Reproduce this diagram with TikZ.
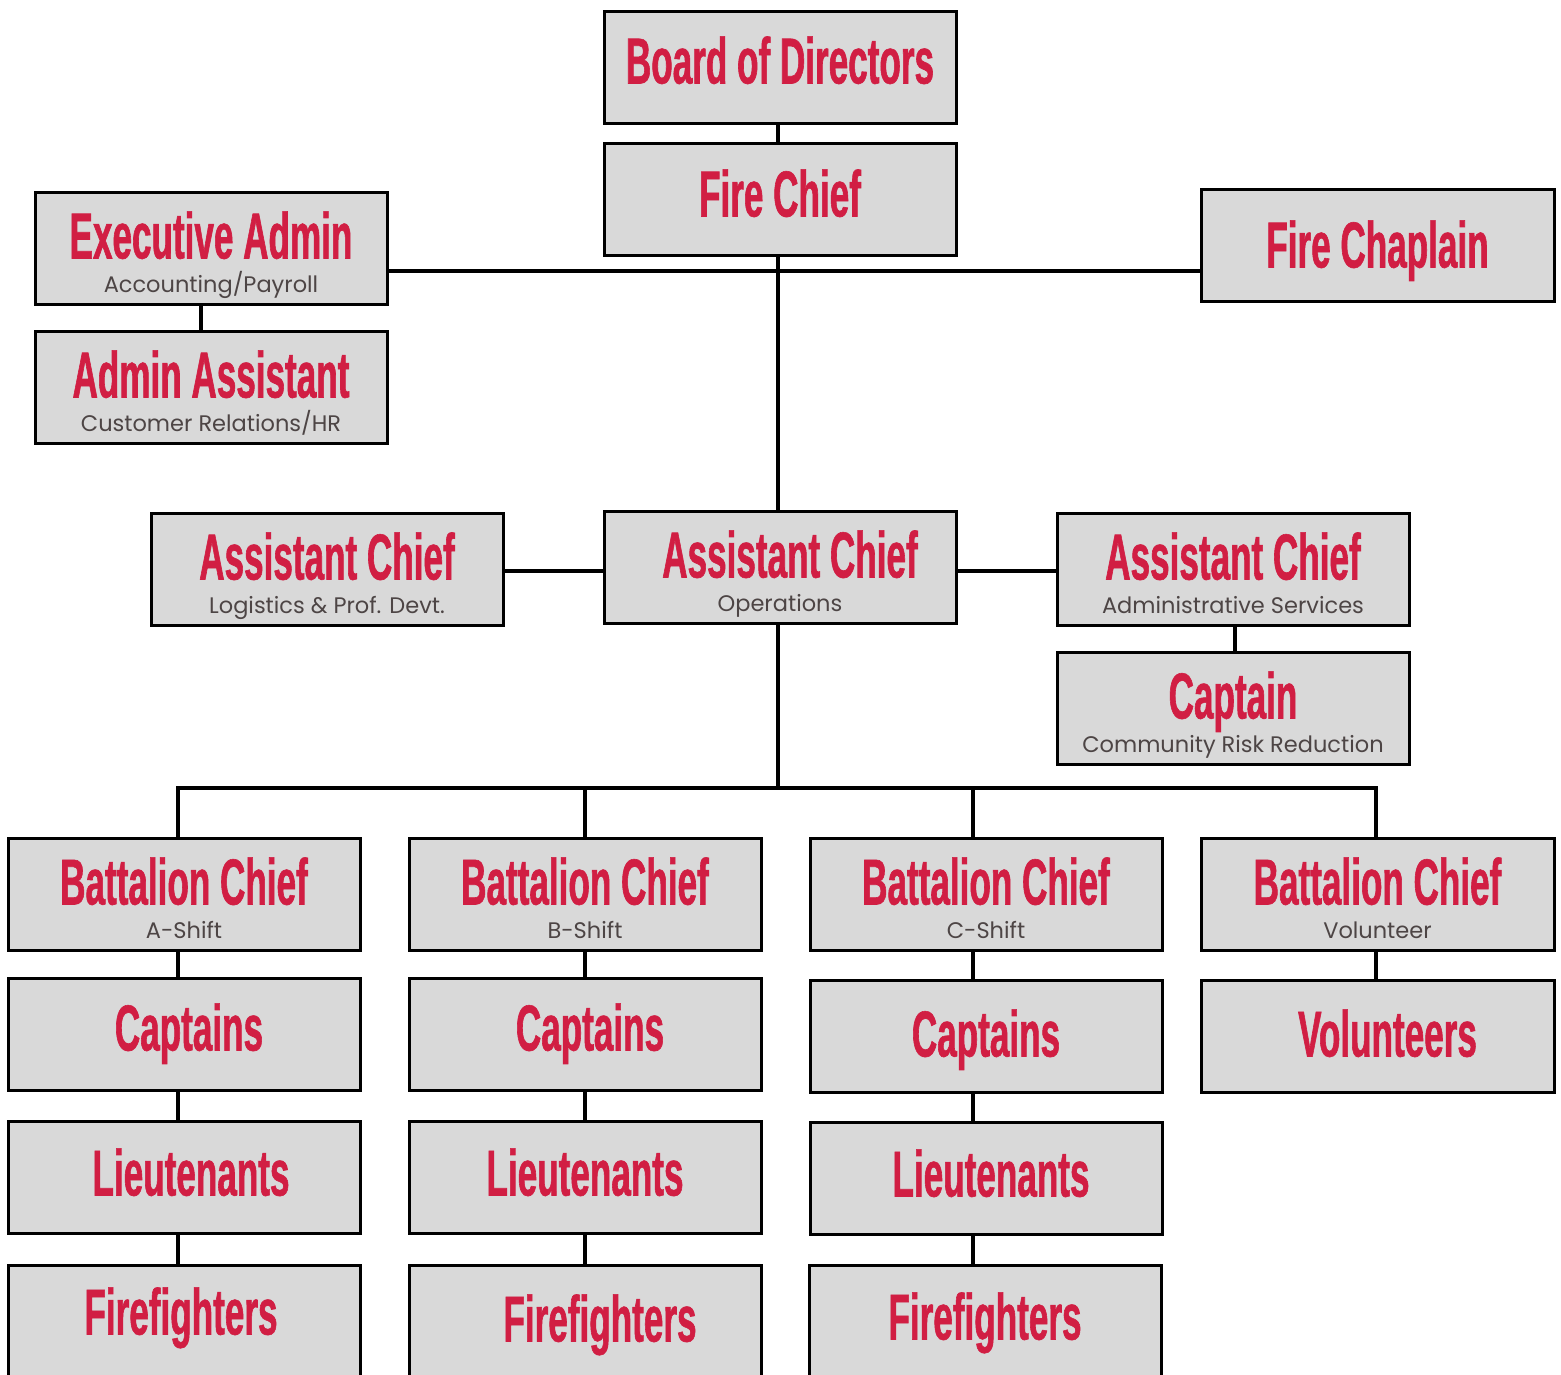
\documentclass[tikz,border=0pt]{standalone}
\usepackage{fontspec}
\newfontfamily\ttlfont{Liberation Sans Bold}[FakeStretch=0.54,FakeBold=0.9]
\newfontfamily\subfont{Poppins}
\definecolor{boxgray}{HTML}{D9D9D9}
\definecolor{ttlred}{HTML}{D11E43}
\definecolor{subgray}{HTML}{4D4545}
\tikzset{
  orgbox/.style={draw=black, fill=boxgray, line width=3pt, minimum width=352pt, minimum height=112pt, inner sep=0pt},
  ttl/.style={text=ttlred, font=\ttlfont\fontsize{65}{70}\selectfont, inner sep=0pt, anchor=base},
  sub/.style={text=subgray, font=\subfont\fontsize{22.5}{26}\selectfont, inner sep=0pt, anchor=base},
  link/.style={draw=black, line width=3.2pt}
}
\newcommand{\onetitle}[4][0]{\node[ttl] (#2-t) at ([yshift=-#3pt, xshift=#1pt]#2.north) {#4};}
\newcommand{\twotitle}[4][0]{%
  \node[ttl] (#2-t) at ([yshift=-68pt, xshift=#1pt]#2.north) {#3};
  \node[sub] (#2-s) at ([yshift=-102pt]#2.north) {#4};}
\begin{document}
\begin{tikzpicture}[x=1pt,y=-1pt]
\path[use as bounding box, clip] (0,0) rectangle (1561,1374);
\fill[white] (0,0) rectangle (1561,1374);
% boxes
\node[orgbox] (board) at (780,67) {};
\node[orgbox] (chief) at (780,199) {};
\node[orgbox] (ea) at (211,248) {};
\node[orgbox] (aa) at (211,387) {};
\node[orgbox, minimum width=353pt] (chap) at (1377.5,245) {};
\node[orgbox] (acl) at (327,569) {};
\node[orgbox] (ops) at (780,567) {};
\node[orgbox] (aca) at (1233,569) {};
\node[orgbox] (crr) at (1233,708) {};
\node[orgbox] (bcA) at (184,894) {};
\node[orgbox] (bcB) at (585,894) {};
\node[orgbox] (bcC) at (986,894) {};
\node[orgbox, minimum width=353pt] (bcD) at (1377.5,894) {};
\node[orgbox] (capA) at (184,1034) {};
\node[orgbox] (capB) at (585,1034) {};
\node[orgbox] (capC) at (986,1036) {};
\node[orgbox, minimum width=353pt] (vol) at (1377.5,1036) {};
\node[orgbox] (ltA) at (184,1177) {};
\node[orgbox] (ltB) at (585,1177) {};
\node[orgbox] (ltC) at (986,1178) {};
\node[orgbox] (ffA) at (184,1321) {};
\node[orgbox] (ffB) at (585,1321) {};
\node[orgbox] (ffC) at (985,1321) {};
% texts
\onetitle{board}{74}{Board of Directors}
\onetitle{chief}{75}{Fire Chief}
\twotitle{ea}{Executive Admin}{Accounting/Payroll}
\twotitle{aa}{Admin Assistant}{Customer Relations/HR}
\onetitle{chap}{80}{Fire Chaplain}
\twotitle{acl}{Assistant Chief}{Logistics \& Prof. Devt.}
\twotitle[10]{ops}{Assistant Chief}{Operations}
\twotitle{aca}{Assistant Chief}{Administrative Services}
\twotitle{crr}{Captain}{Community Risk Reduction}
\twotitle{bcA}{Battalion Chief}{A-Shift}
\twotitle{bcB}{Battalion Chief}{B-Shift}
\twotitle{bcC}{Battalion Chief}{C-Shift}
\twotitle{bcD}{Battalion Chief}{Volunteer}
\onetitle[5]{capA}{74}{Captains}
\onetitle[5]{capB}{74}{Captains}
\onetitle{capC}{78}{Captains}
\onetitle[10]{vol}{78}{Volunteers}
\onetitle[7]{ltA}{76}{Lieutenants}
\onetitle{ltB}{76}{Lieutenants}
\onetitle[5]{ltC}{76}{Lieutenants}
\onetitle[-3]{ffA}{71}{Firefighters}
\onetitle[15]{ffB}{78}{Firefighters}
\onetitle{ffC}{76}{Firefighters}
% connectors
\coordinate (hub) at (778,271);
\coordinate (bus) at (778,788);
\draw[link] ([xshift=-2pt]board.south) -- ([xshift=-2pt]chief.north);
\draw[link] (ea.east |- hub) -- (chap.west |- hub);
\draw[link] ([xshift=-2pt]chief.south) -- ([xshift=-2pt]ops.north);
\draw[link] ([xshift=-10pt]ea.south) -- ([xshift=-10pt]aa.north);
\draw[link] (acl.east |- 0,571) -- (ops.west |- 0,571);
\draw[link] (ops.east |- 0,571) -- (aca.west |- 0,571);
\draw[link] ([xshift=2pt]aca.south) -- ([xshift=2pt]crr.north);
\draw[link] ([xshift=-2pt]ops.south) -- ([yshift=-2pt]bus);
\draw[link] ([xshift=-6pt]bcA.north) -- ([xshift=-6pt]bcA.north |- bus) -- ([xshift=-1.5pt]bcD.north |- bus) -- ([xshift=-1.5pt]bcD.north);
\draw[link] (bcB.north |- bus) -- (bcB.north);
\draw[link] ([xshift=-13pt]bcC.north |- bus) -- ([xshift=-13pt]bcC.north);
% columns
\draw[link] ([xshift=-6pt]bcA.south) -- ([xshift=-6pt]capA.north);
\draw[link] ([xshift=-6pt]capA.south) -- ([xshift=-6pt]ltA.north);
\draw[link] ([xshift=-6pt]ltA.south) -- ([xshift=-6pt]ffA.north);
\draw[link] (bcB.south) -- (capB.north);
\draw[link] (capB.south) -- (ltB.north);
\draw[link] (ltB.south) -- (ffB.north);
\draw[link] ([xshift=-13pt]bcC.south) -- ([xshift=-13pt]capC.north);
\draw[link] ([xshift=-13pt]capC.south) -- ([xshift=-13pt]ltC.north);
\draw[link] ([xshift=-13pt]ltC.south) -- ([xshift=-12pt]ffC.north);
\draw[link] ([xshift=-1.5pt]bcD.south) -- ([xshift=-1.5pt]vol.north);
\end{tikzpicture}
\end{document}
